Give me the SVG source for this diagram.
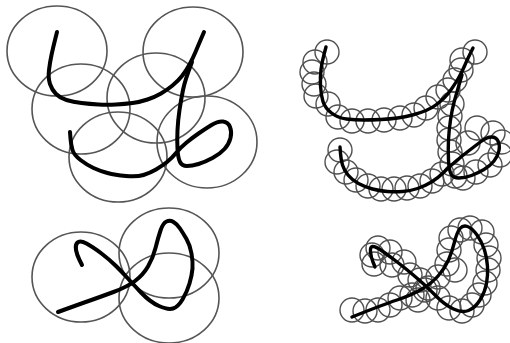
<svg xmlns="http://www.w3.org/2000/svg" width="510" height="343" viewBox="0 0 510 343">
<style>
.big{fill:none;stroke:#555;stroke-width:1.6}
.sm{fill:none;stroke:#505050;stroke-width:1.4}
.ink{fill:none;stroke:#000;stroke-width:4;stroke-linecap:round;stroke-linejoin:round}
.ink2{fill:none;stroke:#000;stroke-width:3.4;stroke-linecap:round;stroke-linejoin:round}
</style>
<rect width="510" height="343" fill="#fff"/>
<g id="panel-top-left">
<ellipse class="big" cx="57" cy="51" rx="50" ry="45"/>
<ellipse class="big" cx="193" cy="52" rx="50" ry="45"/>
<ellipse class="big" cx="81" cy="109" rx="49" ry="45"/>
<ellipse class="big" cx="156" cy="98" rx="49" ry="45"/>
<ellipse class="big" cx="118" cy="157" rx="49" ry="45"/>
<ellipse class="big" cx="207" cy="142" rx="50" ry="46"/>
<path class="ink" d="M57,32 L55,40 Q53,48 51.5,55 Q50,62 49,70 Q48,78 50,84 Q52,90 56,94 Q60,98 66.5,100 Q73,102 81.5,103 Q90,104 98.5,104.5 Q107,105 116,104.5 Q125,104 132.5,103 Q140,102 147.5,99.5 Q155,97 161,93.5 Q167,90 172.5,85.5 Q178,81 182,76 Q186,71 189.5,64.5 Q193,58 195.5,52 Q198,46 204,32"/>
<path class="ink" d="M70,132 L70.5,138.5 Q71,145 72.5,150 Q74,155 80.5,160 Q87,165 93.5,168 Q100,171 107.5,173 Q115,175 126,176 Q137,177 143.5,175 Q150,173 156,169.5 Q162,166 167,162 Q172,158 176,153 Q180,148 186,143 Q192,138 198.5,133.5 Q205,129 211.5,125 Q218,121 223,121.5 Q228,122 230,127 Q232,132 230.5,138 Q229,144 224.5,149 Q220,154 212.5,158 Q205,162 198.5,164 Q192,166 187,166 Q182,166 180,162 Q178,158 177.5,149 Q177,140 177.5,130 Q178,120 179.5,110 Q181,100 183,90 Q185,80 192,62"/>
</g>
<g id="panel-top-right">
<g class="sm">
<circle cx="327" cy="52" r="12"/><circle cx="315" cy="62" r="12"/><circle cx="312" cy="72" r="12"/><circle cx="314" cy="84" r="12"/><circle cx="316" cy="96" r="12"/><circle cx="328" cy="104" r="12"/><circle cx="338" cy="117" r="12"/><circle cx="352" cy="121" r="12"/><circle cx="368" cy="121" r="12"/><circle cx="384" cy="120" r="12"/><circle cx="400" cy="118" r="12"/><circle cx="414" cy="115" r="12"/><circle cx="426" cy="108" r="12"/><circle cx="438" cy="97" r="12"/><circle cx="448" cy="90" r="12"/><circle cx="455" cy="80" r="12"/><circle cx="461" cy="70" r="12"/><circle cx="462" cy="60" r="12"/><circle cx="475" cy="52" r="12"/>
<circle cx="452" cy="104" r="12"/><circle cx="450" cy="116" r="12"/><circle cx="449" cy="128" r="12"/><circle cx="449" cy="140" r="12"/><circle cx="450" cy="152" r="12"/><circle cx="452" cy="164" r="12"/><circle cx="455" cy="176" r="12"/>
<circle cx="468" cy="143" r="12"/><circle cx="477" cy="128" r="12"/><circle cx="493" cy="133" r="12"/><circle cx="502" cy="142" r="12"/><circle cx="500" cy="155" r="12"/><circle cx="490" cy="165" r="12"/><circle cx="476" cy="172" r="12"/><circle cx="463" cy="178" r="12"/>
<circle cx="340" cy="150" r="12"/><circle cx="337" cy="162" r="12"/><circle cx="346" cy="172" r="12"/><circle cx="356" cy="180" r="12"/><circle cx="368" cy="186" r="12"/><circle cx="381" cy="189" r="12"/><circle cx="394" cy="189" r="12"/><circle cx="407" cy="188" r="12"/><circle cx="420" cy="186" r="12"/><circle cx="432" cy="181" r="12"/><circle cx="442" cy="174" r="12"/>
</g>
<path class="ink2" d="M326,47 L324,54.5 Q322,62 321,69.5 Q320,77 320.5,86 Q321,95 323,101.5 Q325,108 331.5,113 Q338,118 346.5,119 Q355,120 363.5,120 Q372,120 381,119.5 Q390,119 397.5,118 Q405,117 412.5,115 Q420,113 426,110.5 Q432,108 436.5,104.5 Q441,101 444.5,97.5 Q448,94 451.5,89 Q455,84 458.5,78 Q462,72 464.5,66 Q467,60 473,48"/>
<path class="ink2" d="M340,147 L340.5,153.5 Q341,160 342.5,165 Q344,170 348,175 Q352,180 358.5,183.5 Q365,187 372.5,189 Q380,191 387.5,191.5 Q395,192 402.5,191.5 Q410,191 417.5,188.5 Q425,186 431.5,182 Q438,178 443.5,172.5 Q449,167 455.5,161.5 Q462,156 468.5,151 Q475,146 481,141.5 Q487,137 491.5,137 Q496,137 498,141 Q500,145 499,150.5 Q498,156 494,161 Q490,166 484,169.5 Q478,173 471.5,175.5 Q465,178 459,178 Q453,178 451,174 Q449,170 448.5,160 Q448,150 448.5,140 Q449,130 450.5,120 Q452,110 454,102.5 Q456,95 462,75"/>
</g>
<g id="panel-bottom-left">
<ellipse class="big" cx="81" cy="277" rx="49" ry="45"/>
<ellipse class="big" cx="169" cy="253" rx="50" ry="45"/>
<ellipse class="big" cx="169" cy="298" rx="50" ry="45"/>
<path class="ink" d="M82,265 L79.5,260 Q77,255 76,250 Q75,245 77.5,242.5 Q80,240 86.5,243.5 Q93,247 101.5,253.5 Q110,260 116,266 Q122,272 127,277.5 Q132,283 141,292.5 Q150,302 159,306 Q168,310 173,308.5 Q178,307 182.5,299.5 Q187,292 189.5,283.5 Q192,275 192.5,268.5 Q193,262 191.5,253.5 Q190,245 186.5,239 Q183,233 180,228.5 Q177,224 173.5,222 Q170,220 166.5,221.5 Q163,223 160.5,230.5 Q158,238 155.5,248 Q153,258 148,266.5 Q143,275 135,281 Q127,287 113.5,292 Q100,297 90,300.5 Q80,304 58,312"/>
</g>
<g id="panel-bottom-right">
<g class="sm">
<circle cx="372" cy="255" r="12"/><circle cx="378" cy="248" r="12"/><circle cx="390" cy="252" r="12"/><circle cx="374" cy="264" r="12"/><circle cx="392" cy="265" r="12"/><circle cx="404" cy="262" r="12"/><circle cx="410" cy="275" r="12"/><circle cx="420" cy="280" r="12"/><circle cx="428" cy="288" r="12"/><circle cx="438" cy="277" r="12"/><circle cx="447" cy="264" r="12"/><circle cx="449" cy="250" r="12"/><circle cx="451" cy="238" r="12"/><circle cx="460" cy="230" r="12"/><circle cx="470" cy="228" r="12"/><circle cx="482" cy="232" r="12"/><circle cx="486" cy="245" r="12"/><circle cx="489" cy="258" r="12"/><circle cx="488" cy="270" r="12"/><circle cx="485" cy="283" r="12"/><circle cx="479" cy="295" r="12"/><circle cx="472" cy="305" r="12"/><circle cx="462" cy="311" r="12"/><circle cx="449" cy="308" r="12"/><circle cx="438" cy="298" r="12"/><circle cx="425" cy="290" r="12"/><circle cx="412" cy="295" r="12"/><circle cx="400" cy="298" r="12"/><circle cx="390" cy="305" r="12"/><circle cx="378" cy="310" r="12"/><circle cx="365" cy="311" r="12"/><circle cx="352" cy="310" r="12"/><circle cx="418" cy="300" r="12"/><circle cx="455" cy="270" r="12"/>
</g>
<path class="ink2" d="M375,267 L373,262 Q371,257 370.5,252 Q370,247 372.5,246.5 Q375,246 381.5,250.5 Q388,255 396.5,261.5 Q405,268 411.5,273.5 Q418,279 423,283.5 Q428,288 436.5,296.5 Q445,305 453.5,309 Q462,313 468.5,310.5 Q475,308 480,300 Q485,292 486.5,283.5 Q488,275 487.5,266.5 Q487,258 484.5,250 Q482,242 477,235 Q472,228 467.5,226.5 Q463,225 460,228.5 Q457,232 454.5,242 Q452,252 448.5,260 Q445,268 438.5,275.5 Q432,283 422,289 Q412,295 397,300 Q382,305 352,317"/>
</g>
</svg>
